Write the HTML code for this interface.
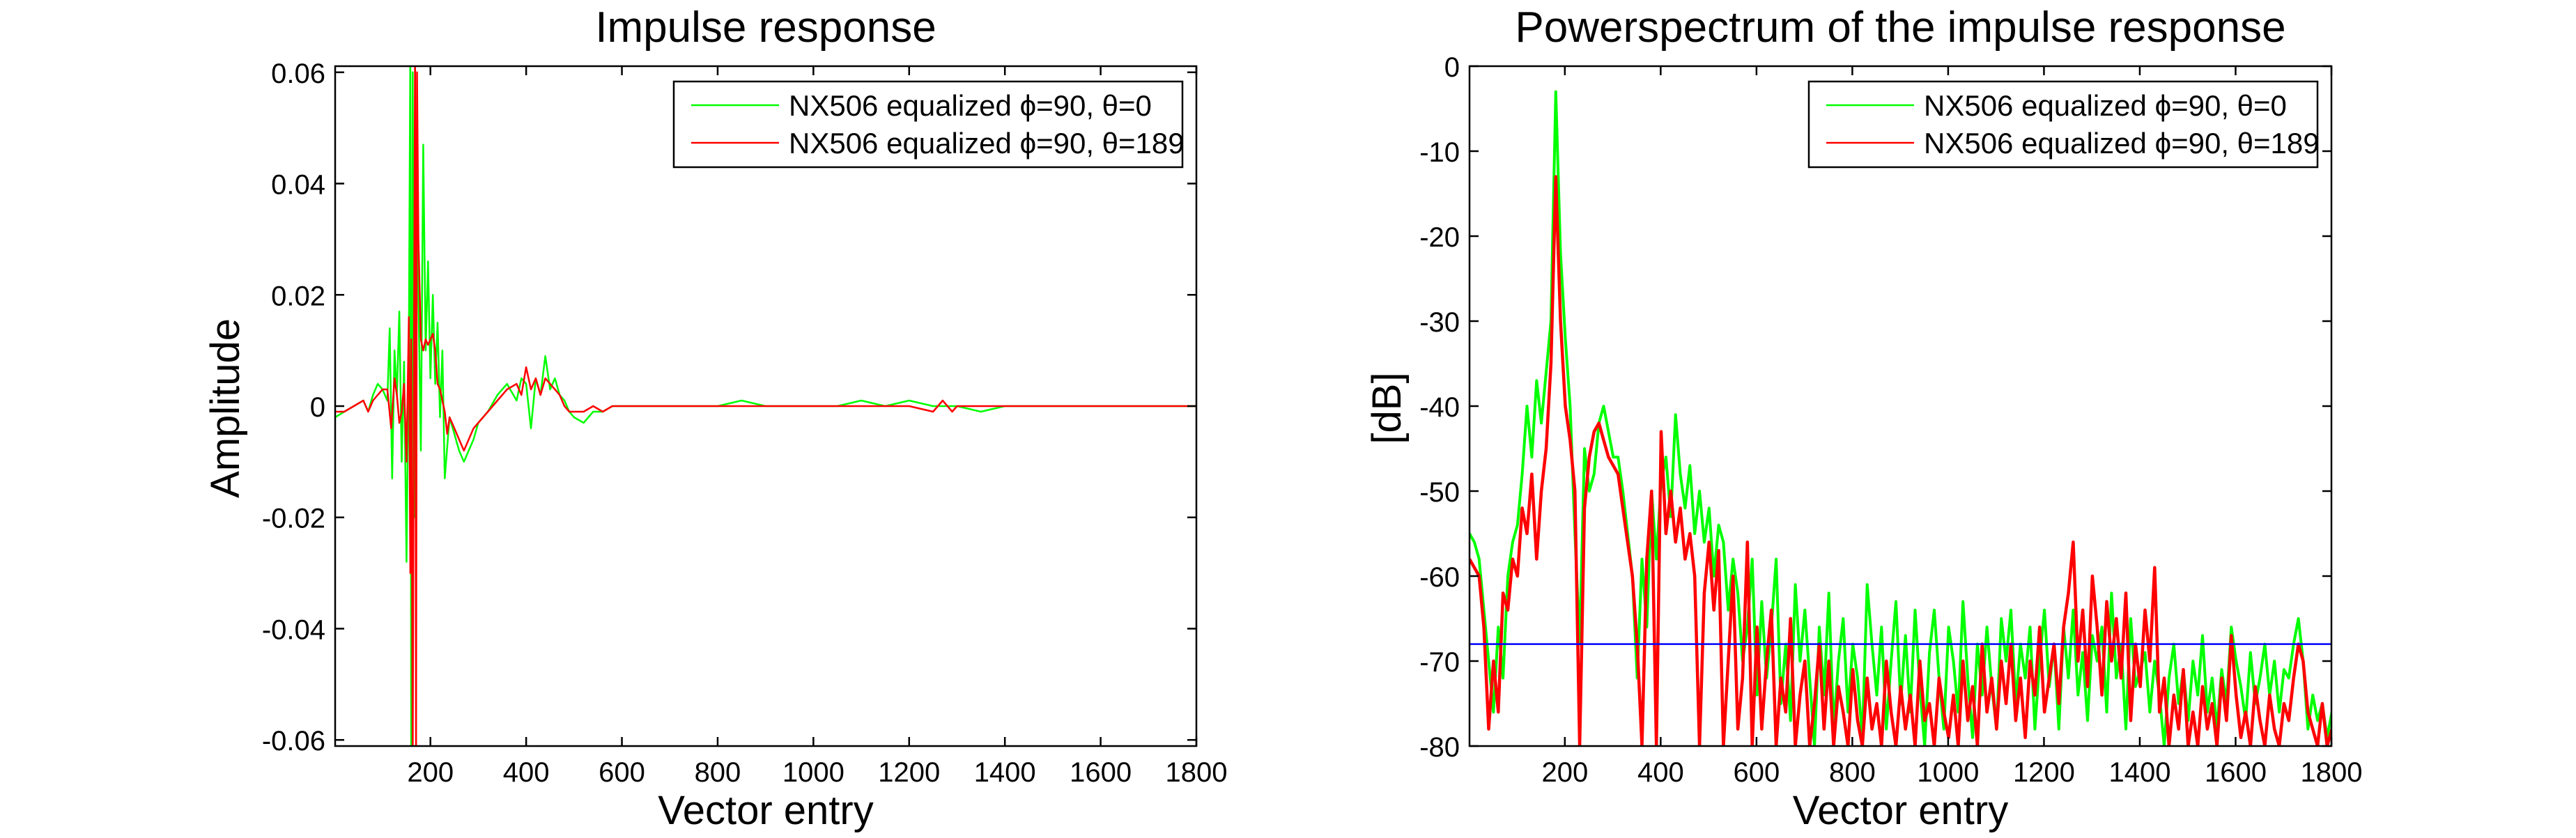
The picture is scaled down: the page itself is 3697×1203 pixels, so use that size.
<!DOCTYPE html>
<html><head><meta charset="utf-8"><style>
html,body{margin:0;padding:0;background:#fff;}
svg{display:block;font-family:"Liberation Sans",Arial,sans-serif;}
</style></head><body>
<svg id="fig" width="3697" height="1203" viewBox="0 0 3697 1203" xmlns="http://www.w3.org/2000/svg">
<rect width="3697" height="1203" fill="#fff"/>
<defs>
<clipPath id="clipL"><rect x="481" y="95" width="1236" height="976"/></clipPath>
<clipPath id="clipR"><rect x="2109" y="95" width="1237" height="976"/></clipPath>
</defs>
<g id="left"></g>
<g id="right"></g>
</svg>
<script>
// ---------- data ----------
const xTicks = [200,400,600,800,1000,1200,1400,1600,1800];
const xTickLabels = ["200","400","600","800","1000","1200","1400","1600","1800"];
const ampTicks = [-0.06,-0.04,-0.02,0,0.02,0.04,0.06];
const ampTickLabels = ["-0.06","-0.04","-0.02","0","0.02","0.04","0.06"];
const dbTicks = [-80,-70,-60,-50,-40,-30,-20,-10,0];
const dbTickLabels = ["-80","-70","-60","-50","-40","-30","-20","-10","0"];
const legendLabels = ["NX506 equalized \u03d5=90, \u03b8=0","NX506 equalized \u03d5=90, \u03b8=189"];
const blueLevel = -68;

const irGreenX = [1,20,40,60,70,80,90,100,110,115,120,125,130,135,140,145,150,155,158,160,163,166,170,175,180,185,190,195,200,205,210,215,220,225,230,240,250,260,270,280,290,300,320,340,360,380,390,400,410,420,430,440,450,460,470,480,490,500,520,540,560,580,600,650,700,750,800,850,900,950,1000,1050,1100,1150,1200,1250,1300,1350,1400,1450,1500,1550,1600,1650,1700,1750,1800];
const irGreen  = [-0.002,-0.001,0.000,0.001,-0.001,0.002,0.004,0.003,0.001,0.014,-0.013,0.010,0.002,0.017,-0.010,0.008,-0.028,0.012,0.065,-0.065,0.060,-0.020,0.050,0.020,-0.008,0.047,0.010,0.026,0.005,0.020,0.004,0.015,-0.002,0.010,-0.013,-0.002,-0.005,-0.008,-0.010,-0.008,-0.006,-0.003,-0.001,0.002,0.004,0.001,0.005,0.004,-0.004,0.005,0.002,0.009,0.003,0.005,0.002,0.001,-0.001,-0.002,-0.003,-0.001,-0.001,0.000,0.000,0.000,0.000,0.000,0.000,0.001,0.000,0.000,0.000,0.000,0.001,0.000,0.001,0.000,0.000,-0.001,0.000,0.000,0.000,0.000,0.000,0.000,0.000,0.000,0.000];
const irRedX = [1,20,40,60,70,80,90,100,110,118,125,130,135,140,145,150,155,158,160,163,166,168,170,172,175,180,185,190,195,200,205,210,215,220,225,230,235,240,250,260,270,280,290,300,320,340,360,380,390,400,410,420,430,440,450,460,470,480,490,500,520,540,560,580,600,650,700,750,800,850,900,950,1000,1050,1100,1150,1200,1250,1270,1290,1300,1350,1400,1450,1500,1550,1600,1650,1700,1750,1800];
const irRed = [-0.001,-0.001,0.000,0.001,-0.001,0.001,0.002,0.003,0.003,-0.004,0.005,0.002,-0.003,-0.001,0.004,-0.010,0.016,-0.030,0.012,-0.065,0.020,0.065,-0.065,0.060,0.030,0.012,0.010,0.012,0.011,0.012,0.013,0.010,0.004,0.003,0.001,-0.001,-0.005,-0.002,-0.004,-0.006,-0.008,-0.006,-0.004,-0.003,-0.001,0.001,0.003,0.004,0.002,0.007,0.003,0.005,0.002,0.005,0.004,0.003,0.002,0.000,-0.001,-0.001,-0.001,0.000,-0.001,0.000,0.000,0.000,0.000,0.000,0.000,0.000,0.000,0.000,0.000,0.000,0.000,0.000,0.000,-0.001,0.001,-0.001,0.000,0.000,0.000,0.000,0.000,0.000,0.000,0.000,0.000,0.000,0.000];

const psStep = 10;
const psGreen = [-55,-56,-58,-64,-70,-76,-66,-72,-60,-56,-54,
-48,-40,-46,-37,-42,-36,-30,-3,-22,-32,
-40,-55,-68,-45,-50,-48,-42,-40,-43,-46,
-46,-50,-55,-60,-72,-58,-66,-50,-58,-49,
-46,-53,-41,-48,-52,-47,-55,-50,-56,-52,
-60,-54,-56,-64,-58,-62,-70,-66,-58,-74,
-63,-72,-66,-58,-75,-68,-77,-61,-70,-64,
-72,-80,-66,-74,-62,-78,-70,-65,-76,-68,
-72,-79,-61,-68,-74,-66,-78,-70,-63,-75,
-67,-76,-64,-73,-80,-69,-64,-72,-78,-66,
-70,-76,-63,-72,-79,-68,-74,-66,-73,-78,
-65,-70,-64,-75,-68,-72,-66,-78,-70,-64,
-73,-68,-78,-66,-72,-64,-74,-69,-77,-67,
-70,-66,-76,-62,-72,-68,-78,-65,-73,-71,
-69,-76,-70,-74,-80,-72,-68,-75,-71,-77,
-70,-74,-67,-76,-72,-78,-71,-75,-66,-70,
-73,-77,-69,-75,-72,-68,-74,-70,-76,-71,
-72,-68,-65,-70,-78,-74,-77,-75,-79,-76];
const psRed = [-58,-59,-60,-66,-78,-70,-76,-62,-64,-58,-60,
-52,-55,-48,-58,-50,-45,-35,-13,-30,-40,
-44,-50,-80,-52,-46,-43,-42,-44,-46,-47,
-48,-52,-56,-60,-68,-80,-58,-50,-80,-43,
-55,-50,-56,-52,-58,-55,-60,-80,-62,-56,
-64,-57,-80,-70,-60,-78,-72,-56,-80,-66,
-78,-70,-64,-80,-72,-76,-65,-80,-74,-70,
-80,-75,-68,-78,-70,-80,-73,-76,-80,-71,
-77,-80,-72,-78,-75,-80,-70,-76,-80,-73,
-78,-74,-80,-70,-77,-75,-80,-72,-76,-79,
-74,-80,-70,-77,-73,-80,-68,-76,-72,-78,
-70,-75,-68,-77,-72,-79,-70,-74,-66,-76,
-72,-68,-75,-66,-62,-56,-70,-64,-73,-60,
-66,-74,-63,-70,-65,-72,-62,-77,-68,-73,
-64,-70,-59,-76,-72,-80,-74,-78,-71,-80,
-76,-80,-73,-78,-75,-80,-72,-77,-67,-74,
-79,-76,-80,-73,-77,-80,-74,-78,-80,-75,
-77,-72,-68,-70,-76,-78,-80,-75,-80,-78];

// ---------- drawing ----------
const NS = "http://www.w3.org/2000/svg";
function mk(tag, attrs, parent){
  const e = document.createElementNS(NS, tag);
  for (const k in attrs) e.setAttribute(k, attrs[k]);
  parent.appendChild(e);
  return e;
}

function drawChart(g, cfg){
  const {x0,x1,y0,y1,ymin,ymax} = cfg;
  const sx = v => x0 + (v - 1) / (1800 - 1) * (x1 - x0);
  const sy = v => y1 - (v - ymin) / (ymax - ymin) * (y1 - y0);

  const title = mk("text", {x:(x0+x1)/2, y:60, "font-size":62, "text-anchor":"middle"}, g);
  title.textContent = cfg.title;
  
  

  const sg = mk("g", {"clip-path":"url(#"+cfg.clip+")"}, g);
  
  
  cfg.series.forEach(s => {
    let d = "";
    for (let i = 0; i < s.y.length; i++) {
      const xv = s.x ? s.x[i] : 1 + i * cfg.step;
      d += (i ? "L" : "M") + sx(xv).toFixed(1) + " " + sy(s.y[i]).toFixed(1);
    }
    const p = mk("path", {d:d, fill:"none", stroke:s.color, "stroke-width":s.w, "stroke-linejoin":"round"}, sg);
    
    
  });
  if (cfg.blue !== undefined) {
    const bl = mk("line", {x1:x0, x2:x1, y1:sy(cfg.blue), y2:sy(cfg.blue), stroke:"#0000ff", "stroke-width":2.5}, sg);
    
    
  }

  const box = mk("rect", {x:x0, y:y0, width:x1-x0, height:y1-y0, fill:"none", stroke:"#000", "stroke-width":2.5}, g);
  
  

  xTicks.forEach((t, i) => {
    const X = sx(t);
    mk("line", {x1:X, x2:X, y1:y1, y2:y1-13, stroke:"#000", "stroke-width":2.5}, g);
    mk("line", {x1:X, x2:X, y1:y0, y2:y0+13, stroke:"#000", "stroke-width":2.5}, g);
    const tl = mk("text", {x:X, y:1122, "font-size":40, "text-anchor":"middle"}, g);
    tl.textContent = xTickLabels[i];
    
    
  });
  cfg.yTicks.forEach((t, i) => {
    const Y = sy(t);
    mk("line", {x1:x0, x2:x0+13, y1:Y, y2:Y, stroke:"#000", "stroke-width":2.5}, g);
    mk("line", {x1:x1, x2:x1-13, y1:Y, y2:Y, stroke:"#000", "stroke-width":2.5}, g);
    const tl = mk("text", {x:x0-14, y:Y+15, "font-size":40, "text-anchor":"end"}, g);
    tl.textContent = cfg.yTickLabels[i];
    
    
  });

  const xl = mk("text", {x:(x0+x1)/2, y:1183, "font-size":58, "text-anchor":"middle"}, g);
  xl.textContent = "Vector entry";
  
  

  const yl = mk("text", {x:0, y:0, "font-size":58, "text-anchor":"middle", transform:"translate("+(cfg.ylx)+",586) rotate(-90)"}, g);
  yl.textContent = cfg.ylabel;
  
  

  const lx = x1 - 20 - 730, ly = 117;
  const lg = mk("g", {}, g);
  
  
  mk("rect", {x:lx, y:ly, width:730, height:123, fill:"#fff", stroke:"#000", "stroke-width":2.5}, lg);
  const cols = ["#00ff00", "#ff0000"];
  [151, 205].forEach((yy, i) => {
    const le = mk("line", {x1:lx+25, x2:lx+151, y1:yy, y2:yy, stroke:cols[i], "stroke-width":2.5}, lg);
    
    
    const lt = mk("text", {x:lx+165, y:yy+15, "font-size":42}, lg);
    lt.textContent = legendLabels[i];
    
    
  });
}

drawChart(document.getElementById("left"), {
  x0:481, x1:1717, y0:95, y1:1071, ymin:-0.0611, ymax:0.0611,
  title:"Impulse response", ylabel:"Amplitude", ylx:343, clip:"clipL",
  yTicks:ampTicks, yTickLabels:ampTickLabels,
  series:[
    {x:irGreenX, y:irGreen, color:"#00ff00", w:2.5, name:"green-impulse-line"},
    {x:irRedX, y:irRed, color:"#ff0000", w:2.5, name:"red-impulse-line"}
  ]
});
drawChart(document.getElementById("right"), {
  x0:2109, x1:3346, y0:95, y1:1071, ymin:-80, ymax:0, step:psStep,
  title:"Powerspectrum of the impulse response", ylabel:"[dB]", ylx:2010, clip:"clipR",
  yTicks:dbTicks, yTickLabels:dbTickLabels, blue:blueLevel,
  series:[
    {y:psGreen, color:"#00ff00", w:4, name:"green-spectrum-line"},
    {y:psRed, color:"#ff0000", w:4.5, name:"red-spectrum-line"}
  ]
});
</script>
</body></html>
